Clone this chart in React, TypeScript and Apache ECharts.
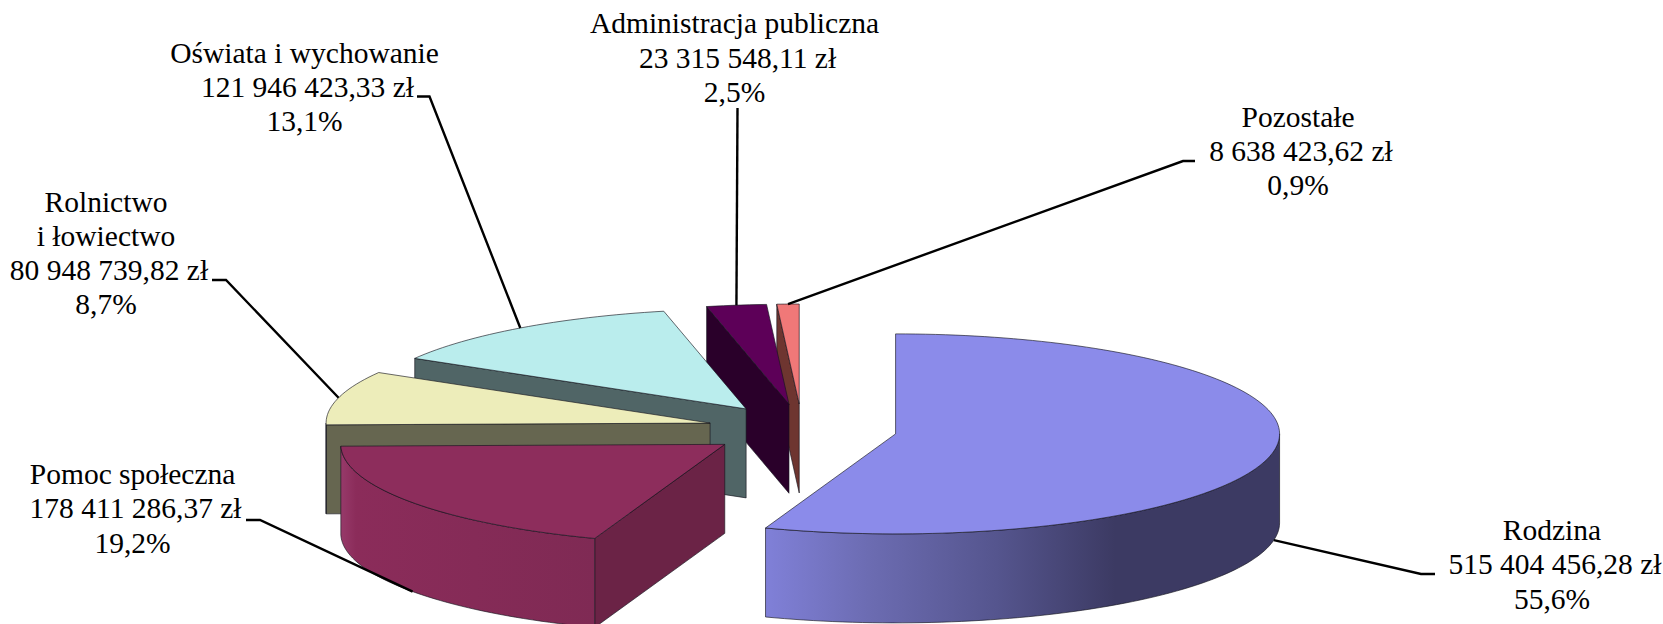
import React, { useEffect, useRef } from "react";
import * as echarts from "echarts";

const categories = ["Rodzina", "Pomoc społeczna", "Rolnictwo\ni łowiectwo", "Oświata i wychowanie", "Administracja publiczna", "Pozostałe"];
const values = [515404456.28, 178411286.37, 80948739.82, 121946423.33, 23315548.11, 8638423.62];
const valueLabels = ["515 404 456,28 zł", "178 411 286,37 zł", "80 948 739,82 zł", "121 946 423,33 zł", "23 315 548,11 zł", "8 638 423,62 zł"];
const percentLabels = ["55,6%", "19,2%", "8,7%", "13,1%", "2,5%", "0,9%"];

const topColors = ["#8B8BEA", "#8D2D5C", "#EDEDBA", "#BAEDED", "#5D0058", "#F07878"];
const wallColors = ["#3C3A63", "#6B2346", "#666650", "#506566", "#2A002A", "#6E3530"];
const paintOrder = [0, 5, 4, 3, 2, 1];

const CX = 802, CY = 429.5, RX = 384, RY = 100, DEPTH = 89, EXPLODE_X = 95, EXPLODE_Y = 25.5;
const LABEL_CENTER = [1552, 132.6, 106, 304.5, 734.5, 1298];
const LABEL_TOP = [530, 474, 201.5, 52.5, 23.4, 116.5];
const LINE_H = 34.3;
const VALUE_LINE_SHIFT = 3;
const LEADER_ELBOWS: number[][][] = [
  [[1435, 574], [1421, 574]],
  [[246, 520], [260, 520]],
  [[212, 280], [226, 280]],
  [[417, 96.5], [429.5, 96.5]],
  [[737.5, 108]],
  [[1195, 161], [1183, 161]],
];

const total = values.reduce((a, b) => a + b, 0);
const rad = (d: number) => (d * Math.PI) / 180;
const slices = (() => {
  let acc = 0;
  return values.map((v) => {
    const start = (acc / total) * 360;
    acc += v;
    const end = (acc / total) * 360;
    const mid = (start + end) / 2;
    return {
      start,
      end,
      mid,
      ax: CX + EXPLODE_X * Math.sin(rad(mid)),
      ay: CY - EXPLODE_Y * Math.cos(rad(mid)),
    };
  });
})();

const onRim = (s: { ax: number; ay: number }, deg: number, dz = 0) => [
  s.ax + RX * Math.sin(rad(deg)),
  s.ay - RY * Math.cos(rad(deg)) + dz,
];
const arc = (s: { ax: number; ay: number }, from: number, to: number, dz = 0) => {
  const n = Math.max(2, Math.ceil((to - from) / 1.5));
  const pts: number[][] = [];
  for (let i = 0; i <= n; i++) pts.push(onRim(s, from + ((to - from) * i) / n, dz));
  return pts;
};
const edge = { stroke: "rgba(20,20,30,0.8)", lineWidth: 0.8 };

function rimFill(i: number, base: string) {
  if (i === 0)
    return new echarts.graphic.LinearGradient(0, 0, 1, 0, [
      { offset: 0, color: "#8080D8" },
      { offset: 0.2, color: "#6C6CB2" },
      { offset: 0.45, color: "#55558E" },
      { offset: 0.68, color: "#3C3A63" },
      { offset: 1, color: "#3C3A63" },
    ]);
  if (i === 1)
    return new echarts.graphic.LinearGradient(0, 0, 1, 0, [
      { offset: 0, color: "#973A6A" },
      { offset: 0.06, color: "#8B2C5A" },
      { offset: 1, color: "#7F2A54" },
    ]);
  return base;
}

function renderSlice(_p: any, api: any) {
  const i = api.value(0);
  const s = slices[i];
  const children: any[] = [];
  const apex = [s.ax, s.ay];
  const wall = (deg: number) => {
    const p = onRim(s, deg);
    children.push({
      type: "polygon",
      shape: { points: [apex, p, [p[0], p[1] + DEPTH], [apex[0], apex[1] + DEPTH]] },
      style: { fill: wallColors[i], ...edge },
    });
  };
  if (s.start > 180) wall(s.start);
  if (s.end < 180) wall(s.end);
  const rf = Math.max(s.start, 90);
  const rt = Math.min(s.end, 270);
  if (rt > rf) {
    children.push({
      type: "polygon",
      shape: { points: [...arc(s, rf, rt), ...arc(s, rf, rt, DEPTH).reverse()] },
      style: { fill: rimFill(i, wallColors[i]), ...edge },
    });
  }
  children.push({
    type: "polygon",
    shape: { points: [apex, ...arc(s, s.start, s.end)] },
    style: { fill: topColors[i], ...edge },
  });
  return { type: "group", children };
}

function renderLabel(_p: any, api: any) {
  const i = api.value(0);
  const s = slices[i];
  const frontRim = s.mid > 90 && s.mid < 270;
  const tip = onRim(s, s.mid, frontRim ? DEPTH : 0);
  const lines = [...categories[i].split("\n"), valueLabels[i], percentLabels[i]];
  const children: any[] = [
    {
      type: "polyline",
      shape: { points: [...LEADER_ELBOWS[i], tip] },
      style: { fill: "none", stroke: "#000", lineWidth: 2.4 },
    },
  ];
  lines.forEach((t, k) => {
    children.push({
      type: "text",
      style: {
        text: t,
        x: LABEL_CENTER[i] + (k === lines.length - 2 ? VALUE_LINE_SHIFT : 0),
        y: LABEL_TOP[i] + k * LINE_H,
        align: "center",
        verticalAlign: "middle",
        fill: "#000",
        font: '29.5px "Liberation Serif"',
      },
    });
  });
  return { type: "group", children };
}

export default function App() {
  const ref = useRef<HTMLDivElement>(null);
  useEffect(() => {
    const chart = echarts.init(ref.current!, null, { renderer: "svg" });
    chart.setOption({
      animation: false,
      backgroundColor: "#fff",
      series: [
        {
          type: "custom",
          coordinateSystem: "none",
          renderItem: renderSlice,
          silent: true,
          z: 2,
          data: paintOrder.map((i) => [i, values[i]]),
        },
        {
          type: "custom",
          coordinateSystem: "none",
          renderItem: renderLabel,
          silent: true,
          z: 3,
          data: categories.map((_, i) => [i, values[i]]),
        },
      ],
    });
    return () => chart.dispose();
  }, []);
  return <div ref={ref} style={{ position: "absolute", left: 0, top: 0, width: 1663, height: 624 }} />;
}
